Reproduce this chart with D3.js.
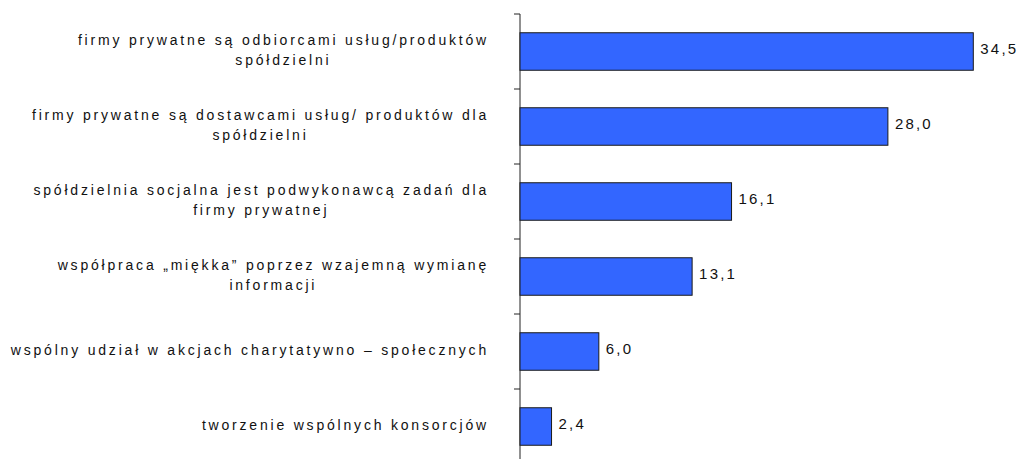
<!DOCTYPE html>
<html><head><meta charset="utf-8">
<script src="https://cdn.jsdelivr.net/npm/d3@7"></script>
<style>body{margin:0;background:#fff}svg{display:block}</style>
</head><body>
<svg id="c" width="1028" height="459"></svg>
<script>
const categories = [
  ["firmy prywatne są odbiorcami usług/produktów", "spółdzielni"],
  ["firmy prywatne są dostawcami usług/ produktów dla", "spółdzielni"],
  ["spółdzielnia socjalna jest podwykonawcą zadań dla", "firmy prywatnej"],
  ["współpraca „miękka” poprzez wzajemną wymianę", "informacji"],
  ["wspólny udział w akcjach charytatywno – społecznych"],
  ["tworzenie wspólnych konsorcjów"]
];
const values = [34.5, 28.0, 16.1, 13.1, 6.0, 2.4];
const valueLabels = ["34,5", "28,0", "16,1", "13,1", "6,0", "2,4"];

(function () {
const svg = d3.select("#c");
const x0 = 520, plotTop = 14, band = 75;
const x = d3.scaleLinear().domain([0, 34.5]).range([x0, 973.3]);
const y = d3.scaleBand().domain(d3.range(values.length)).range([plotTop, plotTop + band * values.length]).paddingInner(0.5).paddingOuter(0.25);

svg.append("line").attr("x1", x0).attr("x2", x0).attr("y1", plotTop).attr("y2", 459)
  .attr("stroke", "#222").attr("stroke-width", 1);
d3.range(values.length + 1).forEach(i => {
  const yy = plotTop + i * band;
  svg.append("line").attr("x1", x0 - 6).attr("x2", x0).attr("y1", yy).attr("y2", yy)
    .attr("stroke", "#222").attr("stroke-width", 1);
});

svg.selectAll("rect.bar").data(values).enter().append("rect")
  .attr("x", x0).attr("y", (d, i) => y(i))
  .attr("width", d => x(d) - x0).attr("height", y.bandwidth())
  .attr("fill", "#3366FF").attr("stroke", "#1a1a1a").attr("stroke-width", 1);

svg.selectAll("text.val").data(values).enter().append("text")
  .attr("x", d => x(d) + 7).attr("y", (d, i) => y(i) + y.bandwidth() / 2 - 2.5)
  .attr("dy", "0.35em")
  .style("font-family", "Liberation Sans, Arial, sans-serif").style("font-size", "15px")
  .style("letter-spacing", "2.2px").attr("fill", "#111")
  .text((d, i) => valueLabels[i]);

const rightEdge = 489, lineH = 20;
categories.forEach((lines, i) => {
  const cy = y(i) + y.bandwidth() / 2 - 1;
  const g = svg.append("g");
  const texts = lines.map((ln, j) => g.append("text")
    .attr("y", cy + (j - (lines.length - 1) / 2) * lineH)
    .attr("dy", "0.35em").attr("text-anchor", "middle")
    .style("font-family", "Liberation Sans, Arial, sans-serif").style("font-size", "14px")
    .style("letter-spacing", "2.8px").attr("fill", "#111").text(ln));
  const w = d3.max(texts, t => t.node().getComputedTextLength());
  texts.forEach(t => t.attr("x", rightEdge - w / 2));
});
})();
</script>
</body></html>
